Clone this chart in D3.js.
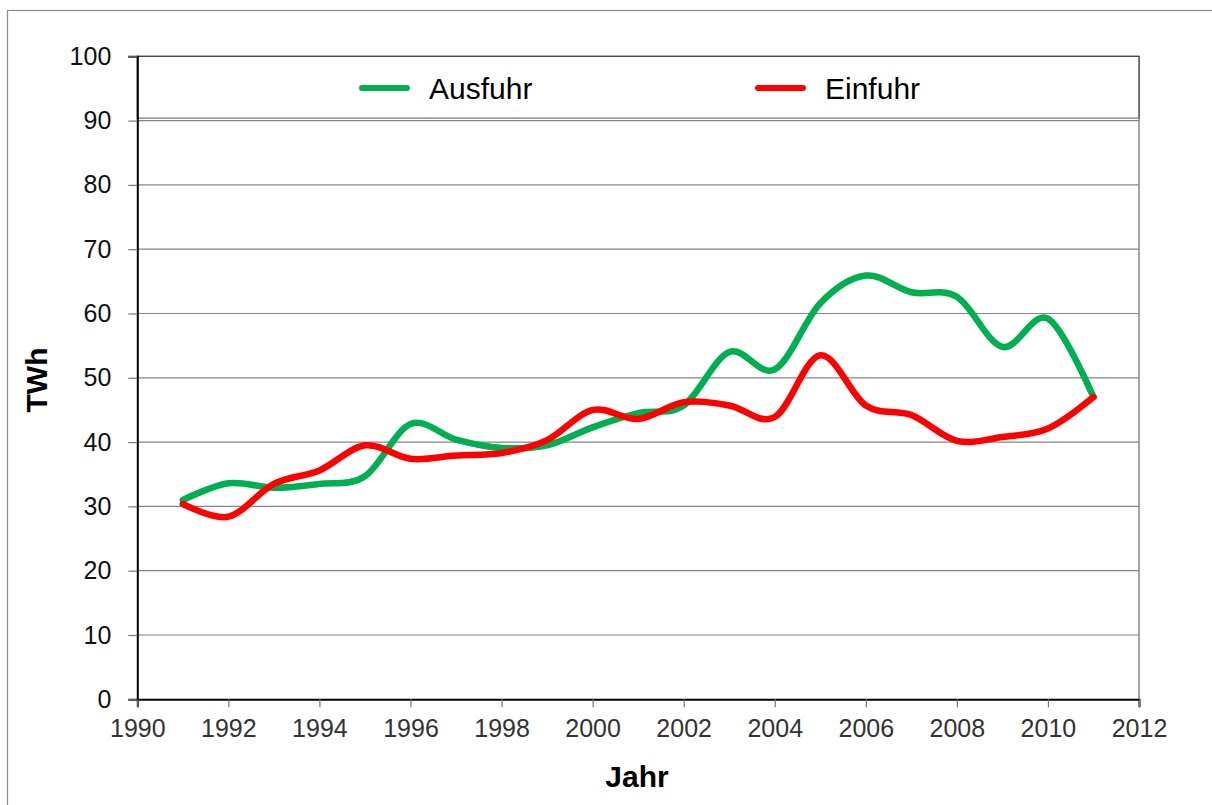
<!DOCTYPE html>
<html>
<head>
<meta charset="utf-8">
<script src="https://cdn.jsdelivr.net/npm/d3@7"></script>
<style>
  body { margin: 0; background: #fff; }
  svg { display: block; font-family: "Liberation Sans", Arial, sans-serif; }
</style>
</head>
<body>
<script>
// data
const years   = [1991, 1992, 1993, 1994, 1995, 1996, 1997, 1998, 1999, 2000, 2001,
                 2002, 2003, 2004, 2005, 2006, 2007, 2008, 2009, 2010, 2011];
const ausfuhr = [31.0, 33.6, 32.9, 33.5, 34.7, 42.8, 40.4, 39.1, 39.5, 42.3, 44.5,
                 45.7, 54.0, 51.3, 61.6, 65.9, 63.3, 62.6, 54.8, 59.2, 47.0];
const einfuhr = [30.4, 28.4, 33.5, 35.6, 39.5, 37.4, 37.9, 38.3, 40.3, 45.0, 43.6,
                 46.2, 45.7, 43.9, 53.5, 45.7, 44.2, 40.2, 40.8, 42.1, 47.0];
const xTicks  = [1990, 1992, 1994, 1996, 1998, 2000, 2002, 2004, 2006, 2008, 2010, 2012];
const yTicks  = [0, 10, 20, 30, 40, 50, 60, 70, 80, 90, 100];
const seriesNames  = ['Ausfuhr', 'Einfuhr'];
const seriesColors = ['#00b050', '#ff0000'];

const width  = 1212;
const height = 805;
const plotLeft = 137.3, plotRight = 1139, plotTop = 56.3, plotBottom = 699.3;

const svg = d3.select('body').append('svg')
  .attr('width', width)
  .attr('height', height);

// outer chart frame (only top/left visible)
svg.append('rect')
  .attr('x', 7.5).attr('y', 10.5)
  .attr('width', 1215).attr('height', 810)
  .attr('fill', 'none').attr('stroke', '#8c8c8c').attr('stroke-width', 1.2);

const x = d3.scaleLinear().domain([1990, 2012]).range([plotLeft, plotRight]);
const y = d3.scaleLinear().domain([0, 100]).range([plotBottom, plotTop]);

// gridlines
svg.append('g')
  .selectAll('line')
  .data(yTicks.filter(d => d > 0))
  .enter().append('line')
  .attr('x1', plotLeft).attr('x2', plotRight)
  .attr('y1', d => y(d)).attr('y2', d => y(d))
  .attr('stroke', '#868686').attr('stroke-width', 1.2);

// right border of plot area
svg.append('line')
  .attr('x1', plotRight).attr('x2', plotRight)
  .attr('y1', plotTop).attr('y2', plotBottom)
  .attr('stroke', '#868686').attr('stroke-width', 1.5);

// legend box sitting over the top band
const legend = svg.append('g');
legend.append('rect')
  .attr('x', plotLeft).attr('y', plotTop)
  .attr('width', plotRight - plotLeft).attr('height', 62)
  .attr('fill', '#fff').attr('stroke', '#3a3a3a').attr('stroke-width', 1.2);
legend.append('line')
  .attr('x1', plotLeft).attr('x2', plotRight)
  .attr('y1', plotTop + 62).attr('y2', plotTop + 62)
  .attr('stroke', '#9a9a9a').attr('stroke-width', 1.2);

const legendX = [362, 758];
seriesNames.forEach((name, i) => {
  legend.append('line')
    .attr('x1', legendX[i]).attr('x2', legendX[i] + 45)
    .attr('y1', 88).attr('y2', 88)
    .attr('stroke', seriesColors[i]).attr('stroke-width', 6)
    .attr('stroke-linecap', 'round');
  legend.append('text')
    .attr('x', legendX[i] + 67).attr('y', 98.5)
    .attr('font-size', 30).attr('fill', '#000')
    .text(name);
});

// y axis
const yAxis = svg.append('g')
  .attr('transform', 'translate(' + plotLeft + ',0)')
  .call(d3.axisLeft(y).tickValues(yTicks).tickSize(9).tickPadding(17));
yAxis.select('.domain').attr('stroke', '#000').attr('stroke-width', 2);
yAxis.selectAll('.tick line').attr('stroke', '#777').attr('stroke-width', 1.2);
yAxis.selectAll('.tick text')
  .attr('font-size', 25).attr('font-family', '"Liberation Sans", Arial, sans-serif')
  .attr('fill', '#111');

// x axis
const xAxis = svg.append('g')
  .attr('transform', 'translate(0,' + plotBottom + ')')
  .call(d3.axisBottom(x).tickValues(xTicks).tickFormat(d3.format('d')).tickSize(8).tickPadding(12));
xAxis.select('.domain').attr('stroke', '#000').attr('stroke-width', 2);
xAxis.selectAll('.tick line').attr('stroke', '#777').attr('stroke-width', 1.2);
xAxis.selectAll('.tick text')
  .attr('font-size', 25).attr('font-family', '"Liberation Sans", Arial, sans-serif')
  .attr('fill', '#333');

// axis titles
svg.append('text')
  .attr('transform', 'translate(47,380) rotate(-90)')
  .attr('text-anchor', 'middle')
  .attr('font-size', 30).attr('font-weight', 'bold')
  .text('TWh');

svg.append('text')
  .attr('x', 637).attr('y', 787)
  .attr('text-anchor', 'middle')
  .attr('font-size', 30).attr('font-weight', 'bold')
  .text('Jahr');

// lines
const line = d3.line()
  .x(d => x(d[0]))
  .y(d => y(d[1]))
  .curve(d3.curveCatmullRom.alpha(0));

[ausfuhr, einfuhr].forEach((vals, i) => {
  svg.append('path')
    .datum(years.map((yr, j) => [yr, vals[j]]))
    .attr('d', line)
    .attr('fill', 'none')
    .attr('stroke', seriesColors[i])
    .attr('stroke-width', 6.5)
    .attr('stroke-linecap', 'round')
    .attr('stroke-linejoin', 'round');
});
</script>
</body>
</html>
